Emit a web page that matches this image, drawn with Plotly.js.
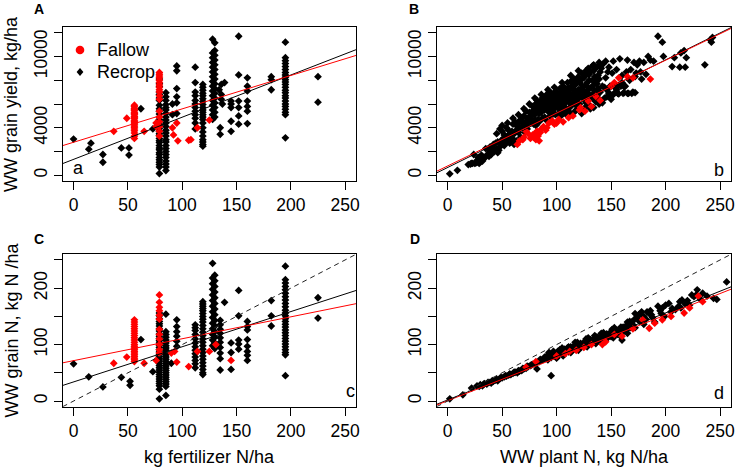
<!DOCTYPE html>
<html>
<head>
<meta charset="utf-8">
<script src="https://cdn.plot.ly/plotly-3.0.1.min.js"></script>
<style>
html,body{margin:0;padding:0;background:#fff;}
#chart{width:737px;height:469px;}
</style>
</head>
<body>
<div id="chart"></div>
<script>
// ---------- DATA ----------
// Panel A: fertilizer N (kg/ha) vs grain yield (kg/ha), columns per fertilizer rate
const aFallowRates = [37, 49, 56, 65, 76, 79, 91, 92, 95, 96, 106, 108, 114, 125];
const aFallowYield = [
  [3700], [4800],
  [5900,5800,5650,5550,5450,5300,5200,5100,4950,4850,4750,4600,4500,4400,4300,4150,4050,3900,3750,3550,3300,3100],
  [3700], [4400,4100],
  [8650,8500,8350,8200,8000,7800,7600,7400,7200,7000,6700,6400,5400,4900,4500,4100,3700,3300],
  [4000], [3400], [4400], [2900], [2950], [3000], [4000], [4650]
];
const aRecropRates = [0,14,16,27,44,51,62,73,79,85,91,95,112,119,128,130,134,135,136,137,139,145,152,160,182,195,225];
const aRecropYield = [
  [3050], [2200], [2700], [1750,1100], [2300], [2300,1700], [5600], [3900],
  [8100,7700,7450,7000,6800,6500,6300,5900,5600,5400,5150,4900,4700,4550,4300,4150,3950,3700,3500,3350,3100,2900,2750,2500,2300,2150,1900,1750,1500,1300,1100,900,700,150],
  [6950,6600,6300,5950,5700,5500,5200,4900,4650,4400,4100,3800,3550,3300,3000,2800,2500,2250,2000,1750,1500,1200,950,700,400],
  [6000,5100],
  [9200,8800,7300,6600,6100,5200],
  [9100,7800,7000,6700,6300,6000,5700,5400,5100,4800,4400,3900],
  [7650,7400,7150,6900,6700,6450,6200,5950,5700,5500,5300,5100,4900,4700,4400,4000,3650,3300,3000,2800,2600,2450],
  [11450,10300,9900,9500,9100,8700,8300,7900,7500,7100,6700,6300,5900,5500,5100,4700],
  [11150,10500,10100,9700,9300,8900,8500,8100,7700,7300,6900,6500,6100,5700,5300,4900],
  [7200], [4000,3450], [7650,6800,6400], [6000], [7800],
  [6250,6000,5700,4550,3700],
  [11700,8450,6250,5700,5000,4300],
  [8200,7500,7100,6250,5800,5400,4350],
  [8300,8050,7200],
  [11200,9900,9650,9400,9150,8900,8650,8450,8250,8050,7850,7650,7400,7150,6950,6700,6500,6250,6000,5800,5550,5300,5100,3150],
  [8300,6150]
];

// Panel C: fertilizer N vs grain N (kg N/ha)
const cFallowRates = [37, 49, 56, 65, 76, 79, 90, 93, 95, 106, 114, 125, 131, 145];
const cFallowN = [
  [67], [78],
  [144,140,136,132,128,124,120,116,112,108,104,100,97,94,91,88,85,82,79,76,73,70],
  [67], [72],
  [188,175,166,160,152,145,127,118,110,100,91,85],
  [85], [88], [69], [61], [88], [88], [100], [72]
];
const cRecropRates = [0,14,27,44,52,62,73,79,85,90,95,112,119,128,130,135,139,145,152,160,182,195,225];
const cRecropN = [
  [66], [43], [25], [42], [35,28], [109], [52],
  [156,151,146,141,137,133,128,124,119,115,111,107,103,99,95,91,87,83,79,75,71,67,63,59,55,51,47,43,39,35,31,27,21,4],
  [154,123,118,113,108,103,98,94,90,86,82,78,74,70,66,62,58,54,50,46,42,38,34,30,26,10],
  [67],
  [144,132,123,115,106,97],
  [135,130,125,118,110,103,96,90,84,78,72,66,59],
  [176,172,168,164,160,155,150,145,140,134,128,122,116,110,104,98,92,86,80,74,68,62,56,50,47],
  [244,218,208,198,188,178,168,158,148,138,128,118,108,98],
  [223,213,203,193,183,173,163,153,143,133,123,113,103,93],
  [143,135,127,120,112,104,95,85,75,55],
  [175],
  [103,86,56],
  [196,151,108,101,92],
  [141,132,126,109,97,88,81,72],
  [178,151,133],
  [239,215,209,203,197,191,185,179,173,167,161,156,151,146,141,136,131,126,121,116,111,106,101,96,91,86,82,45],
  [183,147]
];

// Panel B: plant N (kg N/ha) vs grain yield (kg/ha), [plantN, yield]
const bFallow = [[64,2600],[66,2900],[69,3000],[70,3200],[72,3700],[74,3500],[76,3100],[78,3400],[79,3200],[80,3500],[81,3000],[82,3700],[83,3300],[84,2900],[85,3600],[86,3900],[88,4100],[90,3800],[91,4000],[93,4400],[96,4600],[98,4300],[100,4400],[102,4700],[106,4500],[111,4850],[115,5000],[121,5500],[122,5700],[126,5400],[129,6250],[132,5800],[136,6650],[140,6300],[150,7500],[153,7800],[157,8200],[165,8300],[170,8200],[186,8100]];
const bRecrop = [[2,120],[9,420],[19,900],[21,950],[23,1000],[25,1000],[26,1050],[28,1100],[30,1150],[32,1200],[24,1750],[34,1450],[36,1700],[38,1600],[40,1750],[41,2100],[43,2000],[45,2200],[46,1900],[48,2400],[50,2600],[52,2500],[53,2800],[55,2850],[57,2700],[58,3000],[60,3050],[61,2600],[63,2900],[35,2250],[37,2200],
[45,3500],[48,3900],[50,3700],[52,3400],[54,4000],[56,3800],[60,4300],[62,4500],[64,4100],[66,4600],[68,4800],[70,5000],[71,4400],[72,5400],[73,3900],[75,5300],[76,4600],[78,5800],[79,4300],[80,5100],[81,6000],[82,5500],[83,4700],[84,5900],[85,6200],[86,5300],[87,6100],[88,5600],[89,4900],[90,6500],[91,5800],[92,6200],[93,5300],[94,6600],[95,5900],[96,6300],[97,5500],[98,6700],[99,6000],[100,6400],[101,5700],[102,5200],[103,6100],[104,6600],[105,7000],[106,5900],[107,6400],[108,5400],[109,6800],[110,7100],[111,6200],[112,5700],[113,6600],[114,7300],[115,6000],[116,6900],[117,7600],[118,6300],[119,5800],[120,7200],[121,7800],[122,6600],[123,5200],[124,7500],[125,8200],[126,6900],[127,6100],[128,7800],[129,8500],[130,7300],[131,5600],[132,6600],[133,8000],[134,8800],[135,7100],[136,6200],[137,7700],[138,8400],[139,6000],[140,7000],[141,9000],[142,7500],[143,9400],[144,6500],[145,8200],[146,7200],[147,8700],[148,6900],[150,7500],[151,8600],[152,6800],[154,7600],[155,8900],[156,6900],[158,9800],[159,7500],[160,8400],[161,6900],[163,7500],[164,8700],[165,9700],[166,6900],[168,8900],[170,7000],[171,9500],[172,8300],[174,9300],[176,9600],[177,8700],[180,9500],[182,8500],[184,10000],[186,9700],[189,9600],[193,11700],[197,11200],[198,10000],[206,9150],[208,9900],[213,9100],[214,10300],[217,10500],[218,9100],[219,9900],[236,9300],[241,11400],[242,11200],[243,11600],
[76,5000],[77,4500],[80,4700],[82,6300],[84,5200],[86,5700],[88,6400],[89,5500],[90,6000],[91,6800],[92,5600],[93,6400],[94,5000],[95,6200],[96,5700],[97,6500],[98,5200],[99,6900],[100,5900],[101,6300],[102,6800],[103,5600],[104,6200],[105,5400],[106,6500],[107,7200],[108,6100],[109,5600],[110,6500],[111,7400],[112,6900],[113,6000],[114,6500],[115,7600],[116,6400],[117,7100],[118,6800],[119,7900],[120,6500],[121,7000],[122,8000],[123,7300],[124,6700],[125,7100],[126,8400],[127,7600],[128,6600],[129,7200],[130,8000],[131,8700],[132,7400],[133,6800],[134,7600],[135,8300],[136,7900],[137,6700],[138,7300],[139,8100],[140,8700],[127,5800],[124,5500],[130,5900],[135,6300],[118,5500],
[149,6850],[153,6900],[157,6850],[162,6950],[165,6900],[169,6900],[172,6950],[144,7400],[149,7500],[153,7450],[157,7550],[162,7450],
[22,1000],[27,1250],[29,1000],[31,1350],[33,1500],[39,1900],[42,2300],[44,2700],[47,2100],[49,2900],[51,3100],[53,3300],[55,3100],[57,3500],[59,3700],[61,3500],[63,3800],[65,3600],[66,3900],[68,4100],[69,4500],[70,4200],[72,4500],[74,4300],[75,4800],[77,5200],[79,5500],[80,5900],[83,6100],[85,5600],[87,6500],[89,6300],[92,6700],[94,7000],[97,6900],[100,7000],[103,7300],[106,7500],[110,7800],[113,7900],[116,8100],[120,8300],[123,8600],[127,8800],[130,8500],[133,9200],[137,9100],[140,9300],
[58,3300],[62,3600],[65,4400],[67,3200],[71,3600],[73,4800],[78,5100],[81,4200],[84,4500],[87,4800],[91,4600],[95,5000],[99,5100],[104,5000],[108,5200],[112,5300],[117,5400],[121,6000],[125,6400],[129,6900],[134,5700],[138,6500],[142,6100],[146,6600],[150,6400],[155,7200],[160,7800],[167,8000],[173,8600],[178,8100],[148,9100],[152,9600],[145,9600],[139,9500],[134,9300],[129,9000],[120,8800],[113,8400],[105,7800],[98,7400],[92,7200],[86,6800],[80,6500],[75,6000],[70,5600],[65,5100],[60,4800],[55,4400],[50,4200],[46,2800],[42,2600],[39,2400],[31,1700],[28,1500]];

// Panel D: plant N vs grain N, [plantN, grainN]
const dFallow = [[72,60],[81,70],[100,80],[108,84],[112,88],[118,90],[125,95],[132,100],[142,100],[145,105],[153,118],[160,115],[170,128],[179,144],[185,129],[190,138],[197,144],[205,150],[217,156],[222,165],[230,186],[234,176]];
const dRecrop = [[2,4],[14,11],[22,23],[27,27],[30,29],[32,27],[34,31],[36,30],[38,33],[40,32],[42,35],[44,37],[46,36],[48,40],[50,41],[52,43],[54,44],[56,46],[58,47],[60,49],[62,51],[64,50],[66,53],[68,54],[70,57],[72,58],[74,61],[76,63],[78,65],[80,66],[82,57],[84,70],
[86,72],[88,74],[90,76],[91,80],[92,73],[93,78],[94,82],[95,45],[95,77],[96,84],[97,80],[98,86],[99,79],[100,83],[101,88],[102,81],[103,86],[104,90],[105,84],[106,88],[107,92],[108,86],[109,90],[110,94],[111,87],[112,92],[113,96],[114,89],[115,94],[116,98],[117,92],[118,96],[119,100],[120,94],[121,98],[122,102],[123,96],[124,100],[125,104],[126,98],[127,103],[128,107],[129,100],[130,105],[131,109],[132,102],[133,107],[134,111],[135,104],[136,109],[137,113],[138,106],[139,111],[140,115],[141,108],[142,113],[143,117],[144,110],[145,115],[146,119],[147,112],[148,117],[149,121],[150,114],[151,119],[152,123],[153,116],[154,121],[155,125],[156,118],[157,123],[158,128],[159,121],[160,108],[160,126],[161,131],[162,124],[163,129],[164,134],[165,127],[166,132],[167,137],[168,130],[169,140],[170,135],[171,144],[172,155],[174,149],[176,141],[178,158],[180,150],[182,145],[185,155],[187,153],[190,140],[193,168],[195,160],[199,150],[203,173],[206,164],[209,162],[212,168],[215,179],[218,172],[222,170],[224,188],[226,185],[229,197],[232,180],[234,191],[244,182],[247,180],[256,211],
[29,26],[33,30],[37,33],[41,36],[45,39],[49,42],[53,45],[57,48],[61,51],[65,54],[69,58],[73,62],[77,64],[81,68],[85,74],[89,78],[97,88],[103,91],[111,96],[119,104],[127,110],[135,116],[143,121],[151,127],[159,131],[167,141],[175,152],[183,158],[197,165],[213,176],[228,188],
[100,76],[106,80],[113,86],[120,90],[128,96],[136,102],[144,106],[152,112],[158,116],[165,120],[172,130],[180,136],[188,148],[196,155],[205,158],[214,165],[220,178],[238,186],[93,86],[105,94],[117,104],[129,112],[141,120],[153,130],[165,140],[176,154],[186,160],[200,170]];

// Fitted regression lines [intercept, slope]
const aFitFallow = [2780, 28.1], aFitRecrop = [1340, 35.5];
const bFitFallow = [785, 44.5],  bFitRecrop = [653, 45.3];
const cFitFallow = [71.6, 0.388], cFitRecrop = [33.9, 0.623];
const dFitFallow = [0.5, 0.760], dFitRecrop = [1.9, 0.771];
const oneToOne = [0, 1];

const xTicks = [0, 50, 100, 150, 200, 250];
const yieldTicks = [0, 2000, 4000, 6000, 8000, 10000, 12000];
const yieldTickText = ['0', '', '4000', '', '', '10000', ''];
const nTicks = [0, 50, 100, 150, 200, 250];
const nTickText = ['0', '', '100', '', '200', ''];
const legendNames = ['Fallow', 'Recrop'];

// ---------- BUILD ----------
const RED = '#FF0000', BLK = '#000000';
const MS = 6;
const FONT = 'Liberation Sans, Arial, Helvetica, sans-serif';
const xRange = [-10, 260], yieldRange = [-480, 12480], nRange = [-10, 260];

function cols(rates, vals) {
  const x = [], y = [];
  rates.forEach((r, i) => vals[i].forEach(v => { x.push(r); y.push(v); }));
  return {x, y};
}
function pairs(arr) { return {x: arr.map(p => p[0]), y: arr.map(p => p[1])}; }
function pts(d, color, xa, ya) {
  return {type: 'scatter', mode: 'markers', x: d.x, y: d.y, xaxis: xa, yaxis: ya,
    marker: {symbol: 'diamond', size: MS, color: color, line: {width: 0}},
    showlegend: false, hoverinfo: 'skip', cliponaxis: true};
}
function fit(coef, color, xa, ya, dash) {
  return {type: 'scatter', mode: 'lines', x: xRange.slice(), y: xRange.map(v => coef[0] + coef[1] * v),
    xaxis: xa, yaxis: ya, line: {color: color, width: 1, dash: dash || 'solid'},
    showlegend: false, hoverinfo: 'skip'};
}

const traces = [
  pts(cols(aRecropRates, aRecropYield), BLK, 'x', 'y'),
  pts(cols(aFallowRates, aFallowYield), RED, 'x', 'y'),
  fit(aFitRecrop, BLK, 'x', 'y'),
  fit(aFitFallow, RED, 'x', 'y'),
  pts(pairs(bRecrop), BLK, 'x2', 'y2'),
  pts(pairs(bFallow), RED, 'x2', 'y2'),
  fit(bFitRecrop, BLK, 'x2', 'y2'),
  fit(bFitFallow, RED, 'x2', 'y2'),
  pts(cols(cRecropRates, cRecropN), BLK, 'x3', 'y3'),
  pts(cols(cFallowRates, cFallowN), RED, 'x3', 'y3'),
  fit(cFitRecrop, BLK, 'x3', 'y3'),
  fit(cFitFallow, RED, 'x3', 'y3'),
  fit(oneToOne, '#222', 'x3', 'y3', '5px,4px'),
  pts(pairs(dRecrop), BLK, 'x4', 'y4'),
  pts(pairs(dFallow), RED, 'x4', 'y4'),
  fit(dFitRecrop, BLK, 'x4', 'y4'),
  fit(dFitFallow, RED, 'x4', 'y4'),
  fit(oneToOne, '#222', 'x4', 'y4', '5px,4px')
];

const W = 737, H = 469;
const px = v => v / W, py = v => 1 - v / H;

function axisBase(extra) {
  return Object.assign({
    showgrid: false, zeroline: false, showline: true, mirror: true,
    linecolor: '#000', linewidth: 1, ticks: 'outside', ticklen: 8, tickwidth: 1,
    tickcolor: '#000', tickfont: {family: FONT, size: 17.5, color: '#000'},
    fixedrange: true
  }, extra);
}
const xA = [62.7, 356], xB = [436.7, 731];
const yTop = [27, 181], yBot = [254.3, 406.7];

// manual legend (Fallow: red circle, Recrop: black diamond)
const legCx = 80, legY = [50, 72], legText = 95;
const shapes = [
  {type: 'circle', xref: 'paper', yref: 'paper', x0: px(legCx - 4.3), x1: px(legCx + 4.3),
   y0: py(legY[0] + 4.3), y1: py(legY[0] - 4.3), fillcolor: RED, line: {width: 0}},
  {type: 'path', xref: 'paper', yref: 'paper', fillcolor: BLK, line: {width: 0},
   path: 'M ' + px(legCx) + ',' + py(legY[1] - 4) + ' L ' + px(legCx + 3.4) + ',' + py(legY[1]) +
         ' L ' + px(legCx) + ',' + py(legY[1] + 4) + ' L ' + px(legCx - 3.4) + ',' + py(legY[1]) + ' Z'}
];

function ann(text, x, y, size, extra) {
  return Object.assign({text: text, x: px(x), y: py(y), xref: 'paper', yref: 'paper', showarrow: false,
    font: {size: size, family: FONT, color: '#000'}, xanchor: 'center', yanchor: 'middle'}, extra || {});
}

const layout = {
  width: W, height: H,
  margin: {l: 0, r: 0, t: 0, b: 0},
  paper_bgcolor: '#fff', plot_bgcolor: '#fff',
  font: {family: FONT, color: '#000'},
  showlegend: false,
  xaxis:  axisBase({domain: [px(xA[0]), px(xA[1])], range: xRange, anchor: 'y', tickvals: xTicks, ticklabelstandoff: 0}),
  yaxis:  axisBase({domain: [py(yTop[1]), py(yTop[0])], range: yieldRange, anchor: 'x', tickvals: yieldTicks, ticktext: yieldTickText, tickangle: -90}),
  xaxis2: axisBase({domain: [px(xB[0]), px(xB[1])], range: xRange, anchor: 'y2', tickvals: xTicks, ticklabelstandoff: 0}),
  yaxis2: axisBase({domain: [py(yTop[1]), py(yTop[0])], range: yieldRange, anchor: 'x2', tickvals: yieldTicks, ticktext: yieldTickText, tickangle: -90}),
  xaxis3: axisBase({domain: [px(xA[0]), px(xA[1])], range: xRange, anchor: 'y3', tickvals: xTicks, ticklabelstandoff: 0}),
  yaxis3: axisBase({domain: [py(yBot[1]), py(yBot[0])], range: nRange, anchor: 'x3', tickvals: nTicks, ticktext: nTickText, tickangle: -90}),
  xaxis4: axisBase({domain: [px(xB[0]), px(xB[1])], range: xRange, anchor: 'y4', tickvals: xTicks, ticklabelstandoff: 0}),
  yaxis4: axisBase({domain: [py(yBot[1]), py(yBot[0])], range: nRange, anchor: 'x4', tickvals: nTicks, ticktext: nTickText, tickangle: -90}),
  shapes: shapes,
  annotations: [
    ann(legendNames[0], legText, legY[0], 18, {xanchor: 'left'}),
    ann(legendNames[1], legText, legY[1], 18, {xanchor: 'left'}),
    ann('WW grain yield, kg/ha', 11, 104, 18, {textangle: -90}),
    ann('WW grain N, kg N /ha', 11, 330.5, 18, {textangle: -90}),
    ann('kg fertilizer N/ha', 209.5, 457, 18),
    ann('WW plant N, kg N/ha', 584, 457, 18),
    ann('<b>A</b>', 39, 9, 14),
    ann('<b>B</b>', 414, 9, 14),
    ann('<b>C</b>', 38.5, 239, 14),
    ann('<b>D</b>', 414.5, 239, 14),
    ann('a', 78, 168, 18),
    ann('b', 719, 170, 18),
    ann('c', 350, 391, 18),
    ann('d', 719, 393, 18)
  ]
};

Plotly.newPlot('chart', traces, layout, {displayModeBar: false, staticPlot: true});
</script>
</body>
</html>
